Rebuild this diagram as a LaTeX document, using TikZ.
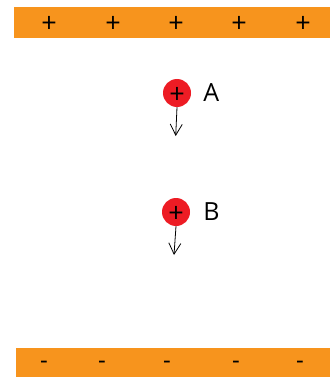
\documentclass[tikz,border=0pt]{standalone}
\usepackage{fontspec}
\setmainfont{Open Sans}
\usetikzlibrary{positioning,arrows.meta}
\definecolor{plateorange}{HTML}{F7941D}
\definecolor{chargered}{HTML}{ED1C24}

\begin{document}
\begin{tikzpicture}[x=1pt,y=-1pt]
\useasboundingbox (0,0) rectangle (330,377);
\fill[plateorange] (14,7) rectangle (330,38); % Plate (top)
\fill[plateorange] (16,348) rectangle (330,377); % Plate (bottom)
\foreach \i/\px in {1/49,2/113,3/176,4/239,5/303}
  \node[inner sep=0pt,font=\fontsize{27}{27}\selectfont] (plus\i) at (\px,24.5) {+}; % + signs
\foreach \i/\px in {1/44,2/102,3/167,4/236,5/300}
  \node[inner sep=0pt,font=\fontsize{24}{24}\selectfont] (minus\i) at (\px,365) {-}; % - signs
\node[circle,fill=chargered,minimum size=28pt,inner sep=0pt] (chargeA) at (177,93) {}; % A
\node[circle,fill=chargered,minimum size=28pt,inner sep=0pt] (chargeB) at (176,212) {}; % B
\node[inner sep=0pt,font=\fontsize{27}{27}\selectfont] (signA) at ([yshift=-2.5pt]chargeA.center) {+};
\node[inner sep=0pt,font=\fontsize{27}{27}\selectfont] (signB) at ([yshift=-2.5pt]chargeB.center) {+};
\coordinate (fallA) at (175.7,136);
\coordinate (fallB) at (174,255);
\draw[line width=0.8pt,-{Straight Barb[length=11pt,width=12pt]}] (chargeA.south) -- (fallA); % force on A
\draw[line width=0.8pt,-{Straight Barb[length=11pt,width=12pt]}] (chargeB.south) -- (fallB); % force on B
%%Labels for the charges are typeset.
\node[right = 12pt of chargeA,inner sep=0pt,font=\fontsize{25}{25}\selectfont] (labelA) {A};
\node[right = 13pt of chargeB,inner sep=0pt,font=\fontsize{25}{25}\selectfont] (labelB) {B};
\end{tikzpicture}
\end{document}
